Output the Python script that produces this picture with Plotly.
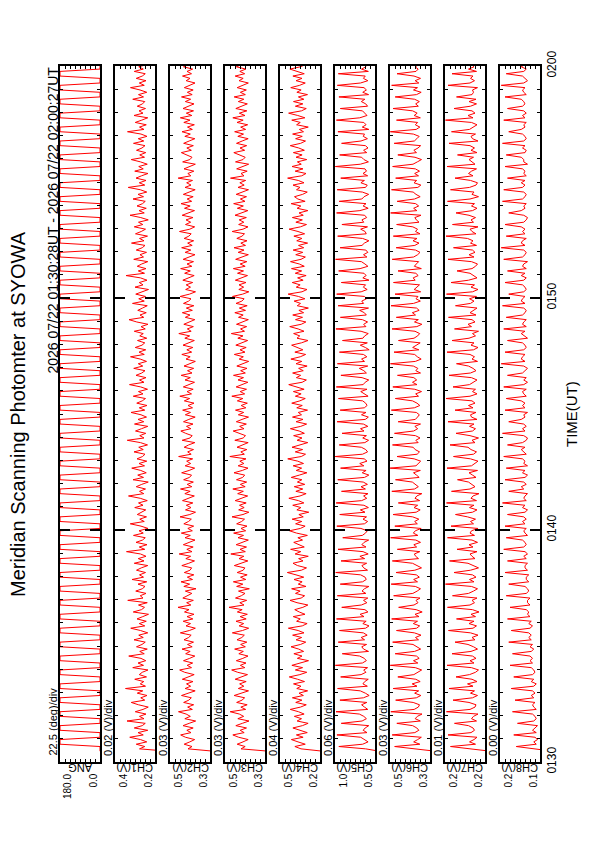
import pandas as pd
import plotly.graph_objects as go

# ---------------- data ----------------
TITLE = "Meridian Scanning Photomter at SYOWA"
PERIOD_TEXT = "2026 07/22 01:30:28UT - 2026 07/22 02:00:27UT"
SAMPLE_START = "2026-07-22 01:30:28"
SAMPLE_STEP = "6s"
AXIS_START = "2026-07-22 01:30:00"
AXIS_END = "2026-07-22 02:00:00"
TIME_TICKS = ["2026-07-22 01:30", "2026-07-22 01:40", "2026-07-22 01:50", "2026-07-22 02:00"]
TIME_TICK_LABELS = ["0130", "0140", "0150", "0200"]
TIME_TITLE = "TIME(UT)"

CHANNELS = ["ANG", "CH1(V)", "CH2(V)", "CH3(V)", "CH4(V)", "CH5(V)", "CH6(V)", "CH7(V)", "CH8(V)"]
UNITS = ["(deg)", "(V)", "(V)", "(V)", "(V)", "(V)", "(V)", "(V)", "(V)"]
VMIN = [0.0, 0.20, 0.27, 0.27, 0.20, 0.50, 0.27, 0.16, 0.130]
VDIV = [22.5, 0.02, 0.03, 0.03, 0.04, 0.06, 0.03, 0.01, 0.004]
NDIV = 8

ANG = [
    0.0, 0.0, 0.0, 180.0, 180.0, 180.0, 0.0, 0.0, 0.0, 180.0, 180.0, 180.0, 0.0, 0.0, 0.0, 180.0, 180.0, 180.0, 0.0, 0.0,
    0.0, 180.0, 180.0, 180.0, 0.0, 0.0, 0.0, 180.0, 180.0, 180.0, 0.0, 0.0, 0.0, 180.0, 180.0, 180.0, 0.0, 0.0, 0.0, 180.0,
    180.0, 180.0, 0.0, 0.0, 0.0, 180.0, 180.0, 180.0, 0.0, 0.0, 0.0, 180.0, 180.0, 180.0, 0.0, 0.0, 0.0, 180.0, 180.0, 180.0,
    0.0, 0.0, 0.0, 180.0, 180.0, 180.0, 0.0, 0.0, 0.0, 180.0, 180.0, 180.0, 0.0, 0.0, 0.0, 180.0, 180.0, 180.0, 0.0, 0.0,
    0.0, 180.0, 180.0, 180.0, 0.0, 0.0, 0.0, 180.0, 180.0, 180.0, 0.0, 0.0, 0.0, 180.0, 180.0, 180.0, 0.0, 0.0, 0.0, 180.0,
    180.0, 180.0, 0.0, 0.0, 0.0, 180.0, 180.0, 180.0, 0.0, 0.0, 0.0, 180.0, 180.0, 180.0, 0.0, 0.0, 0.0, 180.0, 180.0, 180.0,
    0.0, 0.0, 0.0, 180.0, 180.0, 180.0, 0.0, 0.0, 0.0, 180.0, 180.0, 180.0, 0.0, 0.0, 0.0, 180.0, 180.0, 180.0, 0.0, 0.0,
    0.0, 180.0, 180.0, 180.0, 0.0, 0.0, 0.0, 180.0, 180.0, 180.0, 0.0, 0.0, 0.0, 180.0, 180.0, 180.0, 0.0, 0.0, 0.0, 180.0,
    180.0, 180.0, 0.0, 0.0, 0.0, 180.0, 180.0, 180.0, 0.0, 0.0, 0.0, 180.0, 180.0, 180.0, 0.0, 0.0, 0.0, 180.0, 180.0, 180.0,
    0.0, 0.0, 0.0, 180.0, 180.0, 180.0, 0.0, 0.0, 0.0, 180.0, 180.0, 180.0, 0.0, 0.0, 0.0, 180.0, 180.0, 180.0, 0.0, 0.0,
    0.0, 180.0, 180.0, 180.0, 0.0, 0.0, 0.0, 180.0, 180.0, 180.0, 0.0, 0.0, 0.0, 180.0, 180.0, 180.0, 0.0, 0.0, 0.0, 180.0,
    180.0, 180.0, 0.0, 0.0, 0.0, 180.0, 180.0, 180.0, 0.0, 0.0, 0.0, 180.0, 180.0, 180.0, 0.0, 0.0, 0.0, 180.0, 180.0, 180.0,
    0.0, 0.0, 0.0, 180.0, 180.0, 180.0, 0.0, 0.0, 0.0, 180.0, 180.0, 180.0, 0.0, 0.0, 0.0, 180.0, 180.0, 180.0, 0.0, 0.0,
    0.0, 180.0, 180.0, 180.0, 0.0, 0.0, 0.0, 180.0, 180.0, 180.0, 0.0, 0.0, 0.0, 180.0, 180.0, 180.0, 0.0, 0.0, 0.0, 180.0,
    180.0, 180.0, 0.0, 0.0, 0.0, 180.0, 180.0, 180.0, 0.0, 0.0, 0.0, 180.0, 180.0, 180.0, 0.0, 0.0, 0.0, 180.0, 180.0, 180.0,
]

CH1 = [
    0.150, 0.262, 0.241, 0.275, 0.233, 0.258, 0.301, 0.247, 0.268, 0.229, 0.283, 0.251, 0.239, 0.312, 0.244, 0.262, 0.236, 0.279, 0.248, 0.227,
    0.266, 0.295, 0.241, 0.257, 0.232, 0.271, 0.249, 0.318, 0.238, 0.259, 0.245, 0.281, 0.234, 0.263, 0.251, 0.228, 0.289, 0.246, 0.268, 0.237,
    0.256, 0.305, 0.243, 0.261, 0.231, 0.274, 0.252, 0.239, 0.284, 0.247, 0.265, 0.229, 0.258, 0.297, 0.241, 0.263, 0.235, 0.272, 0.249, 0.226,
    0.287, 0.254, 0.242, 0.266, 0.231, 0.309, 0.248, 0.259, 0.236, 0.277, 0.251, 0.240, 0.268, 0.233, 0.292, 0.246, 0.262, 0.238, 0.274, 0.255,
    0.229, 0.283, 0.244, 0.267, 0.236, 0.258, 0.314, 0.241, 0.263, 0.232, 0.276, 0.250, 0.239, 0.286, 0.247, 0.264, 0.228, 0.256, 0.299, 0.243,
    0.261, 0.234, 0.271, 0.252, 0.237, 0.281, 0.248, 0.266, 0.231, 0.259, 0.306, 0.245, 0.262, 0.238, 0.275, 0.253, 0.227, 0.288, 0.246, 0.269,
    0.235, 0.257, 0.293, 0.242, 0.264, 0.233, 0.272, 0.250, 0.240, 0.284, 0.247, 0.265, 0.230, 0.258, 0.311, 0.244, 0.261, 0.237, 0.278, 0.254,
    0.229, 0.282, 0.245, 0.268, 0.234, 0.256, 0.296, 0.241, 0.263, 0.232, 0.273, 0.251, 0.238, 0.287, 0.248, 0.266, 0.230, 0.257, 0.302, 0.244,
    0.262, 0.236, 0.276, 0.253, 0.240, 0.285, 0.249, 0.267, 0.234, 0.259, 0.298, 0.243, 0.264, 0.237, 0.279, 0.252, 0.241, 0.270, 0.233, 0.261,
    0.247, 0.283, 0.239, 0.256, 0.228, 0.273, 0.304, 0.245, 0.260, 0.235, 0.269, 0.250, 0.231, 0.290, 0.243, 0.265, 0.238, 0.277, 0.254, 0.226,
    0.280, 0.248, 0.263, 0.232, 0.258, 0.316, 0.242, 0.267, 0.236, 0.271, 0.253, 0.229, 0.285, 0.246, 0.260, 0.234, 0.275, 0.251, 0.240, 0.294,
    0.244, 0.262, 0.230, 0.278, 0.255, 0.238, 0.283, 0.249, 0.266, 0.227, 0.257, 0.300, 0.243, 0.264, 0.235, 0.272, 0.250, 0.239, 0.288, 0.246,
    0.268, 0.233, 0.259, 0.307, 0.241, 0.263, 0.236, 0.276, 0.254, 0.228, 0.281, 0.247, 0.265, 0.231, 0.258, 0.295, 0.242, 0.261, 0.237, 0.274,
    0.252, 0.240, 0.286, 0.245, 0.267, 0.232, 0.256, 0.310, 0.244, 0.262, 0.235, 0.279, 0.253, 0.229, 0.284, 0.248, 0.264, 0.238, 0.271, 0.250,
    0.241, 0.289, 0.246, 0.266, 0.233, 0.260, 0.298, 0.243, 0.263, 0.236, 0.275, 0.251, 0.239, 0.283, 0.247, 0.265, 0.231, 0.270, 0.335, 0.342,
]

CH2 = [
    0.250, 0.402, 0.378, 0.425, 0.391, 0.362, 0.417, 0.446, 0.384, 0.409, 0.371, 0.432, 0.395, 0.356, 0.421, 0.388, 0.413, 0.459, 0.376, 0.404,
    0.368, 0.428, 0.397, 0.382, 0.441, 0.393, 0.359, 0.419, 0.386, 0.411, 0.372, 0.436, 0.399, 0.365, 0.422, 0.452, 0.381, 0.407, 0.374, 0.429,
    0.392, 0.361, 0.416, 0.389, 0.438, 0.377, 0.405, 0.369, 0.426, 0.398, 0.383, 0.448, 0.394, 0.358, 0.414, 0.387, 0.431, 0.373, 0.408, 0.366,
    0.423, 0.396, 0.462, 0.385, 0.410, 0.370, 0.433, 0.401, 0.379, 0.418, 0.354, 0.427, 0.392, 0.444, 0.375, 0.406, 0.367, 0.424, 0.390, 0.380,
    0.439, 0.397, 0.363, 0.415, 0.386, 0.455, 0.378, 0.409, 0.371, 0.430, 0.394, 0.360, 0.420, 0.388, 0.442, 0.376, 0.403, 0.368, 0.427, 0.399,
    0.382, 0.450, 0.391, 0.357, 0.417, 0.384, 0.412, 0.373, 0.435, 0.396, 0.364, 0.421, 0.389, 0.447, 0.379, 0.407, 0.370, 0.428, 0.393, 0.381,
    0.440, 0.395, 0.362, 0.419, 0.386, 0.410, 0.374, 0.458, 0.383, 0.404, 0.369, 0.425, 0.398, 0.361, 0.437, 0.390, 0.377, 0.416, 0.445, 0.385,
    0.411, 0.372, 0.429, 0.397, 0.359, 0.418, 0.387, 0.434, 0.375, 0.402, 0.366, 0.424, 0.392, 0.451, 0.381, 0.408, 0.371, 0.430, 0.396, 0.363,
    0.420, 0.388, 0.443, 0.378, 0.405, 0.368, 0.426, 0.394, 0.358, 0.414, 0.389, 0.439, 0.380, 0.409, 0.373, 0.432, 0.399, 0.364, 0.421, 0.392,
    0.457, 0.383, 0.406, 0.370, 0.427, 0.395, 0.361, 0.418, 0.390, 0.436, 0.376, 0.412, 0.367, 0.429, 0.398, 0.384, 0.449, 0.393, 0.357, 0.416,
    0.387, 0.413, 0.374, 0.433, 0.400, 0.365, 0.422, 0.388, 0.446, 0.379, 0.408, 0.369, 0.431, 0.394, 0.360, 0.419, 0.385, 0.440, 0.377, 0.404,
    0.368, 0.425, 0.397, 0.383, 0.453, 0.391, 0.362, 0.417, 0.386, 0.414, 0.372, 0.437, 0.396, 0.363, 0.423, 0.389, 0.444, 0.380, 0.407, 0.371,
    0.430, 0.399, 0.359, 0.420, 0.384, 0.410, 0.375, 0.461, 0.385, 0.403, 0.367, 0.426, 0.393, 0.358, 0.434, 0.391, 0.378, 0.415, 0.442, 0.382,
    0.409, 0.370, 0.428, 0.395, 0.361, 0.421, 0.388, 0.438, 0.376, 0.405, 0.364, 0.427, 0.390, 0.448, 0.379, 0.412, 0.369, 0.432, 0.398, 0.366,
    0.418, 0.386, 0.441, 0.377, 0.406, 0.371, 0.424, 0.396, 0.360, 0.413, 0.390, 0.435, 0.381, 0.408, 0.374, 0.429, 0.397, 0.365, 0.422, 0.392,
]

CH3 = [
    0.250, 0.414, 0.389, 0.437, 0.402, 0.371, 0.428, 0.463, 0.395, 0.419, 0.381, 0.445, 0.406, 0.366, 0.433, 0.398, 0.424, 0.479, 0.386, 0.415,
    0.377, 0.440, 0.408, 0.392, 0.455, 0.404, 0.369, 0.430, 0.397, 0.422, 0.383, 0.449, 0.410, 0.375, 0.434, 0.470, 0.391, 0.418, 0.384, 0.442,
    0.403, 0.372, 0.427, 0.400, 0.452, 0.388, 0.416, 0.379, 0.438, 0.409, 0.394, 0.466, 0.405, 0.368, 0.425, 0.398, 0.444, 0.383, 0.419, 0.376,
    0.436, 0.407, 0.486, 0.396, 0.421, 0.380, 0.447, 0.412, 0.390, 0.429, 0.364, 0.440, 0.403, 0.460, 0.385, 0.417, 0.377, 0.437, 0.401, 0.391,
    0.454, 0.408, 0.373, 0.426, 0.397, 0.475, 0.388, 0.420, 0.381, 0.443, 0.405, 0.370, 0.432, 0.399, 0.458, 0.386, 0.414, 0.378, 0.440, 0.410,
    0.393, 0.468, 0.402, 0.367, 0.428, 0.395, 0.423, 0.383, 0.449, 0.407, 0.374, 0.434, 0.400, 0.463, 0.389, 0.418, 0.380, 0.441, 0.404, 0.392,
    0.456, 0.406, 0.372, 0.431, 0.397, 0.421, 0.384, 0.481, 0.394, 0.415, 0.379, 0.438, 0.409, 0.371, 0.451, 0.401, 0.387, 0.428, 0.461, 0.396,
    0.422, 0.382, 0.442, 0.408, 0.369, 0.430, 0.398, 0.447, 0.385, 0.413, 0.376, 0.436, 0.403, 0.469, 0.392, 0.419, 0.381, 0.443, 0.407, 0.373,
    0.432, 0.399, 0.459, 0.388, 0.416, 0.378, 0.439, 0.405, 0.368, 0.425, 0.400, 0.454, 0.390, 0.420, 0.383, 0.445, 0.410, 0.374, 0.433, 0.402,
    0.472, 0.393, 0.417, 0.380, 0.441, 0.406, 0.370, 0.429, 0.401, 0.451, 0.387, 0.424, 0.377, 0.444, 0.409, 0.395, 0.465, 0.404, 0.367, 0.427,
    0.398, 0.426, 0.384, 0.448, 0.411, 0.375, 0.435, 0.399, 0.460, 0.389, 0.419, 0.379, 0.446, 0.405, 0.370, 0.431, 0.396, 0.456, 0.387, 0.415,
    0.378, 0.439, 0.408, 0.393, 0.467, 0.402, 0.372, 0.428, 0.397, 0.425, 0.382, 0.450, 0.406, 0.373, 0.436, 0.400, 0.458, 0.390, 0.418, 0.381,
    0.443, 0.410, 0.369, 0.432, 0.395, 0.421, 0.386, 0.477, 0.396, 0.414, 0.377, 0.440, 0.404, 0.368, 0.447, 0.402, 0.389, 0.427, 0.457, 0.392,
    0.420, 0.380, 0.441, 0.407, 0.371, 0.433, 0.399, 0.452, 0.386, 0.416, 0.374, 0.438, 0.401, 0.463, 0.390, 0.424, 0.379, 0.445, 0.409, 0.376,
    0.430, 0.397, 0.455, 0.388, 0.418, 0.382, 0.437, 0.406, 0.370, 0.426, 0.401, 0.449, 0.392, 0.421, 0.385, 0.442, 0.408, 0.375, 0.434, 0.403,
]

CH4 = [
    0.180, 0.352, 0.401, 0.318, 0.376, 0.429, 0.335, 0.389, 0.302, 0.364, 0.417, 0.341, 0.295, 0.383, 0.348, 0.405, 0.327, 0.372, 0.438, 0.356,
    0.310, 0.394, 0.345, 0.421, 0.333, 0.368, 0.299, 0.386, 0.352, 0.412, 0.324, 0.379, 0.446, 0.361, 0.306, 0.397, 0.339, 0.425, 0.350, 0.292,
    0.381, 0.344, 0.409, 0.331, 0.370, 0.432, 0.355, 0.314, 0.391, 0.347, 0.419, 0.328, 0.375, 0.453, 0.342, 0.303, 0.387, 0.358, 0.414, 0.320,
    0.366, 0.402, 0.337, 0.297, 0.384, 0.440, 0.351, 0.323, 0.396, 0.359, 0.427, 0.312, 0.374, 0.343, 0.408, 0.330, 0.392, 0.461, 0.349, 0.308,
    0.380, 0.416, 0.336, 0.371, 0.294, 0.399, 0.354, 0.435, 0.326, 0.362, 0.410, 0.340, 0.377, 0.301, 0.388, 0.444, 0.357, 0.319, 0.395, 0.346,
    0.423, 0.334, 0.369, 0.290, 0.385, 0.353, 0.418, 0.329, 0.373, 0.449, 0.360, 0.311, 0.393, 0.338, 0.406, 0.322, 0.381, 0.345, 0.430, 0.365,
    0.305, 0.390, 0.347, 0.415, 0.332, 0.378, 0.458, 0.350, 0.316, 0.398, 0.339, 0.424, 0.357, 0.298, 0.383, 0.344, 0.411, 0.325, 0.367, 0.437,
    0.354, 0.307, 0.391, 0.336, 0.420, 0.348, 0.374, 0.300, 0.386, 0.342, 0.426, 0.361, 0.318, 0.397, 0.351, 0.413, 0.327, 0.380, 0.450, 0.343,
    0.309, 0.389, 0.355, 0.419, 0.334, 0.371, 0.303, 0.392, 0.346, 0.433, 0.358, 0.315, 0.401, 0.337, 0.378, 0.427, 0.349, 0.296, 0.384, 0.362,
    0.411, 0.328, 0.375, 0.442, 0.350, 0.313, 0.396, 0.340, 0.418, 0.331, 0.369, 0.293, 0.382, 0.356, 0.407, 0.321, 0.373, 0.455, 0.344, 0.304,
    0.390, 0.359, 0.422, 0.335, 0.379, 0.311, 0.398, 0.347, 0.428, 0.326, 0.366, 0.436, 0.352, 0.317, 0.394, 0.338, 0.415, 0.330, 0.372, 0.299,
    0.386, 0.345, 0.409, 0.323, 0.376, 0.447, 0.357, 0.308, 0.393, 0.341, 0.421, 0.334, 0.368, 0.297, 0.383, 0.353, 0.431, 0.319, 0.377, 0.404,
    0.339, 0.302, 0.388, 0.360, 0.416, 0.328, 0.374, 0.459, 0.346, 0.312, 0.399, 0.336, 0.424, 0.350, 0.381, 0.306, 0.392, 0.343, 0.413, 0.325,
    0.370, 0.438, 0.355, 0.316, 0.395, 0.342, 0.419, 0.332, 0.365, 0.294, 0.387, 0.358, 0.426, 0.321, 0.378, 0.451, 0.348, 0.310, 0.397, 0.337,
    0.412, 0.329, 0.373, 0.300, 0.385, 0.351, 0.434, 0.363, 0.318, 0.391, 0.344, 0.417, 0.326, 0.376, 0.441, 0.356, 0.314, 0.396, 0.340, 0.423,
]

CH5 = [
    0.450, 0.612, 0.934, 0.648, 0.583, 0.629, 0.671, 0.957, 0.596, 0.642, 0.618, 0.575, 0.905, 0.655, 0.603, 0.634, 0.688, 0.968, 0.587, 0.626,
    0.661, 0.598, 0.921, 0.639, 0.570, 0.616, 0.677, 0.949, 0.592, 0.645, 0.623, 0.581, 0.912, 0.667, 0.609, 0.636, 0.589, 0.975, 0.651, 0.604,
    0.628, 0.684, 0.893, 0.578, 0.637, 0.659, 0.601, 0.941, 0.625, 0.666, 0.594, 0.640, 0.926, 0.613, 0.572, 0.646, 0.606, 0.962, 0.632, 0.679,
    0.585, 0.621, 0.899, 0.663, 0.597, 0.638, 0.586, 0.952, 0.610, 0.656, 0.627, 0.573, 0.917, 0.649, 0.605, 0.619, 0.672, 0.971, 0.590, 0.635,
    0.657, 0.600, 0.908, 0.624, 0.681, 0.582, 0.643, 0.944, 0.608, 0.658, 0.631, 0.576, 0.887, 0.652, 0.614, 0.593, 0.669, 0.958, 0.627, 0.588,
    0.644, 0.602, 0.923, 0.620, 0.676, 0.579, 0.633, 0.966, 0.660, 0.599, 0.637, 0.584, 0.902, 0.615, 0.668, 0.591, 0.641, 0.947, 0.626, 0.574,
    0.653, 0.607, 0.913, 0.634, 0.683, 0.596, 0.629, 0.978, 0.650, 0.589, 0.611, 0.664, 0.929, 0.622, 0.577, 0.647, 0.603, 0.896, 0.632, 0.674,
    0.586, 0.639, 0.955, 0.617, 0.580, 0.662, 0.608, 0.918, 0.628, 0.595, 0.612, 0.648, 0.938, 0.583, 0.629, 0.671, 0.596, 0.964, 0.642, 0.618,
    0.575, 0.655, 0.909, 0.603, 0.634, 0.688, 0.587, 0.951, 0.626, 0.661, 0.598, 0.639, 0.927, 0.570, 0.616, 0.677, 0.592, 0.890, 0.645, 0.623,
    0.581, 0.667, 0.969, 0.609, 0.636, 0.589, 0.651, 0.915, 0.604, 0.628, 0.684, 0.578, 0.943, 0.637, 0.659, 0.601, 0.625, 0.960, 0.666, 0.594,
    0.640, 0.613, 0.904, 0.572, 0.646, 0.606, 0.632, 0.936, 0.679, 0.585, 0.621, 0.663, 0.973, 0.597, 0.638, 0.586, 0.610, 0.919, 0.656, 0.627,
    0.573, 0.649, 0.948, 0.605, 0.619, 0.672, 0.590, 0.897, 0.635, 0.657, 0.600, 0.624, 0.961, 0.681, 0.582, 0.643, 0.608, 0.930, 0.658, 0.631,
    0.576, 0.652, 0.954, 0.614, 0.593, 0.669, 0.627, 0.911, 0.588, 0.644, 0.602, 0.620, 0.976, 0.676, 0.579, 0.633, 0.660, 0.924, 0.599, 0.637,
    0.584, 0.615, 0.901, 0.668, 0.591, 0.641, 0.626, 0.945, 0.574, 0.653, 0.607, 0.634, 0.963, 0.683, 0.596, 0.629, 0.650, 0.916, 0.589, 0.611,
    0.664, 0.622, 0.933, 0.577, 0.647, 0.603, 0.632, 0.952, 0.674, 0.586, 0.639, 0.617, 0.940, 0.580, 0.662, 0.608, 0.628, 0.970, 0.595, 0.612,
]

CH6 = [
    0.240, 0.356, 0.482, 0.331, 0.368, 0.344, 0.322, 0.497, 0.361, 0.337, 0.349, 0.374, 0.469, 0.328, 0.359, 0.346, 0.318, 0.505, 0.365, 0.340,
    0.333, 0.371, 0.476, 0.352, 0.325, 0.362, 0.338, 0.491, 0.348, 0.377, 0.329, 0.355, 0.463, 0.367, 0.341, 0.320, 0.358, 0.508, 0.343, 0.369,
    0.335, 0.351, 0.479, 0.363, 0.326, 0.347, 0.372, 0.494, 0.339, 0.357, 0.324, 0.364, 0.471, 0.350, 0.332, 0.370, 0.345, 0.500, 0.336, 0.360,
    0.317, 0.353, 0.458, 0.366, 0.342, 0.354, 0.330, 0.488, 0.373, 0.347, 0.327, 0.358, 0.503, 0.345, 0.368, 0.334, 0.352, 0.474, 0.361, 0.321,
    0.348, 0.375, 0.496, 0.339, 0.356, 0.364, 0.331, 0.466, 0.350, 0.367, 0.327, 0.355, 0.506, 0.343, 0.370, 0.358, 0.323, 0.481, 0.346, 0.362,
    0.337, 0.374, 0.492, 0.353, 0.329, 0.366, 0.344, 0.460, 0.332, 0.360, 0.349, 0.319, 0.499, 0.363, 0.340, 0.357, 0.376, 0.477, 0.335, 0.351,
    0.369, 0.328, 0.509, 0.354, 0.342, 0.326, 0.365, 0.468, 0.347, 0.333, 0.359, 0.371, 0.495, 0.341, 0.355, 0.330, 0.357, 0.483, 0.368, 0.344,
    0.361, 0.327, 0.461, 0.358, 0.345, 0.334, 0.352, 0.502, 0.364, 0.331, 0.348, 0.375, 0.478, 0.339, 0.356, 0.321, 0.361, 0.493, 0.348, 0.375,
    0.350, 0.367, 0.465, 0.327, 0.355, 0.343, 0.370, 0.507, 0.358, 0.323, 0.346, 0.362, 0.486, 0.337, 0.374, 0.353, 0.329, 0.459, 0.366, 0.344,
    0.332, 0.360, 0.498, 0.349, 0.319, 0.363, 0.340, 0.472, 0.357, 0.376, 0.335, 0.351, 0.504, 0.369, 0.328, 0.354, 0.342, 0.480, 0.326, 0.365,
    0.347, 0.333, 0.489, 0.359, 0.371, 0.341, 0.355, 0.462, 0.322, 0.364, 0.352, 0.338, 0.497, 0.368, 0.344, 0.330, 0.357, 0.473, 0.361, 0.336,
    0.372, 0.348, 0.490, 0.330, 0.357, 0.345, 0.373, 0.470, 0.336, 0.352, 0.361, 0.324, 0.506, 0.349, 0.368, 0.338, 0.356, 0.467, 0.363, 0.329,
    0.354, 0.371, 0.501, 0.343, 0.325, 0.366, 0.350, 0.476, 0.339, 0.362, 0.333, 0.358, 0.494, 0.372, 0.346, 0.321, 0.360, 0.463, 0.351, 0.367,
    0.342, 0.326, 0.485, 0.364, 0.349, 0.335, 0.370, 0.508, 0.353, 0.331, 0.358, 0.344, 0.471, 0.328, 0.365, 0.347, 0.374, 0.492, 0.340, 0.356,
    0.334, 0.362, 0.479, 0.351, 0.323, 0.369, 0.345, 0.500, 0.337, 0.359, 0.327, 0.366, 0.468, 0.354, 0.341, 0.360, 0.332, 0.503, 0.348, 0.372,
]

CH7 = [
    0.150, 0.186, 0.229, 0.179, 0.191, 0.182, 0.176, 0.234, 0.188, 0.181, 0.184, 0.193, 0.221, 0.177, 0.187, 0.183, 0.174, 0.237, 0.190, 0.180,
    0.178, 0.192, 0.224, 0.185, 0.175, 0.189, 0.181, 0.232, 0.184, 0.195, 0.176, 0.186, 0.218, 0.191, 0.179, 0.173, 0.187, 0.236, 0.182, 0.190,
    0.178, 0.185, 0.226, 0.188, 0.175, 0.183, 0.194, 0.220, 0.180, 0.186, 0.174, 0.189, 0.233, 0.184, 0.177, 0.192, 0.182, 0.217, 0.179, 0.188,
    0.172, 0.185, 0.235, 0.190, 0.181, 0.186, 0.176, 0.225, 0.193, 0.183, 0.175, 0.187, 0.239, 0.182, 0.191, 0.178, 0.185, 0.222, 0.189, 0.173,
    0.184, 0.194, 0.231, 0.180, 0.186, 0.190, 0.176, 0.216, 0.184, 0.192, 0.175, 0.186, 0.235, 0.181, 0.190, 0.187, 0.174, 0.228, 0.183, 0.189,
    0.179, 0.195, 0.219, 0.185, 0.176, 0.191, 0.182, 0.237, 0.177, 0.188, 0.184, 0.172, 0.227, 0.190, 0.180, 0.186, 0.193, 0.215, 0.178, 0.185,
    0.192, 0.175, 0.236, 0.187, 0.181, 0.174, 0.189, 0.223, 0.183, 0.177, 0.188, 0.194, 0.230, 0.180, 0.186, 0.173, 0.190, 0.218, 0.185, 0.179,
    0.191, 0.182, 0.234, 0.176, 0.187, 0.189, 0.178, 0.220, 0.184, 0.193, 0.180, 0.186, 0.238, 0.190, 0.176, 0.185, 0.179, 0.224, 0.191, 0.182,
    0.176, 0.187, 0.232, 0.189, 0.178, 0.184, 0.193, 0.217, 0.175, 0.186, 0.181, 0.190, 0.236, 0.183, 0.174, 0.188, 0.182, 0.226, 0.192, 0.179,
    0.185, 0.173, 0.221, 0.187, 0.194, 0.180, 0.186, 0.233, 0.178, 0.190, 0.184, 0.176, 0.219, 0.189, 0.182, 0.191, 0.177, 0.237, 0.185, 0.174,
    0.188, 0.181, 0.228, 0.193, 0.176, 0.183, 0.190, 0.216, 0.186, 0.179, 0.175, 0.187, 0.234, 0.182, 0.192, 0.180, 0.185, 0.223, 0.177, 0.189,
    0.184, 0.195, 0.238, 0.178, 0.186, 0.190, 0.174, 0.225, 0.183, 0.188, 0.179, 0.192, 0.218, 0.185, 0.176, 0.187, 0.181, 0.235, 0.190, 0.173,
    0.186, 0.182, 0.229, 0.191, 0.178, 0.175, 0.189, 0.220, 0.184, 0.193, 0.187, 0.177, 0.236, 0.180, 0.186, 0.192, 0.183, 0.215, 0.176, 0.188,
    0.181, 0.190, 0.232, 0.174, 0.185, 0.188, 0.179, 0.227, 0.191, 0.183, 0.176, 0.187, 0.239, 0.184, 0.194, 0.180, 0.186, 0.222, 0.189, 0.177,
    0.192, 0.178, 0.217, 0.186, 0.183, 0.185, 0.175, 0.234, 0.190, 0.181, 0.189, 0.184, 0.226, 0.177, 0.193, 0.182, 0.187, 0.231, 0.179, 0.186,
]

CH8 = [
    0.120, 0.134, 0.149, 0.133, 0.135, 0.132, 0.134, 0.151, 0.133, 0.136, 0.134, 0.132, 0.148, 0.135, 0.133, 0.134, 0.136, 0.152, 0.133, 0.135,
    0.136, 0.134, 0.150, 0.135, 0.137, 0.134, 0.136, 0.153, 0.135, 0.133, 0.137, 0.135, 0.151, 0.136, 0.134, 0.135, 0.137, 0.154, 0.136, 0.138,
    0.136, 0.138, 0.152, 0.137, 0.135, 0.138, 0.136, 0.155, 0.137, 0.139, 0.137, 0.139, 0.153, 0.138, 0.136, 0.139, 0.137, 0.156, 0.138, 0.140,
    0.139, 0.141, 0.154, 0.138, 0.140, 0.140, 0.138, 0.157, 0.141, 0.139, 0.140, 0.142, 0.155, 0.139, 0.141, 0.141, 0.139, 0.158, 0.140, 0.142,
    0.142, 0.140, 0.156, 0.141, 0.143, 0.140, 0.142, 0.159, 0.143, 0.141, 0.142, 0.144, 0.157, 0.140, 0.142, 0.143, 0.141, 0.158, 0.142, 0.144,
    0.141, 0.143, 0.156, 0.142, 0.140, 0.144, 0.142, 0.160, 0.141, 0.143, 0.142, 0.140, 0.155, 0.143, 0.145, 0.141, 0.143, 0.158, 0.142, 0.140,
    0.144, 0.142, 0.157, 0.140, 0.143, 0.142, 0.144, 0.159, 0.141, 0.143, 0.145, 0.142, 0.156, 0.144, 0.141, 0.140, 0.143, 0.160, 0.142, 0.144,
    0.141, 0.143, 0.155, 0.145, 0.142, 0.143, 0.140, 0.158, 0.142, 0.144, 0.142, 0.145, 0.157, 0.141, 0.143, 0.144, 0.141, 0.159, 0.143, 0.140,
    0.143, 0.141, 0.156, 0.144, 0.142, 0.140, 0.143, 0.161, 0.142, 0.145, 0.144, 0.142, 0.158, 0.143, 0.141, 0.142, 0.144, 0.156, 0.140, 0.143,
    0.145, 0.142, 0.159, 0.141, 0.144, 0.143, 0.141, 0.157, 0.144, 0.142, 0.141, 0.143, 0.160, 0.142, 0.145, 0.144, 0.142, 0.155, 0.143, 0.141,
    0.142, 0.144, 0.158, 0.143, 0.141, 0.145, 0.142, 0.156, 0.141, 0.144, 0.143, 0.140, 0.159, 0.144, 0.142, 0.141, 0.143, 0.161, 0.142, 0.145,
    0.144, 0.141, 0.157, 0.142, 0.144, 0.142, 0.145, 0.158, 0.143, 0.141, 0.140, 0.143, 0.155, 0.145, 0.142, 0.143, 0.141, 0.160, 0.144, 0.142,
    0.141, 0.143, 0.159, 0.144, 0.142, 0.145, 0.142, 0.156, 0.141, 0.143, 0.142, 0.144, 0.158, 0.140, 0.143, 0.143, 0.145, 0.157, 0.142, 0.141,
    0.144, 0.142, 0.160, 0.143, 0.141, 0.142, 0.144, 0.155, 0.145, 0.142, 0.143, 0.141, 0.159, 0.142, 0.144, 0.141, 0.143, 0.156, 0.144, 0.142,
    0.143, 0.145, 0.158, 0.141, 0.143, 0.144, 0.142, 0.161, 0.143, 0.140, 0.142, 0.144, 0.157, 0.143, 0.141, 0.145, 0.142, 0.159, 0.141, 0.144,
]

SERIES = [ANG, CH1, CH2, CH3, CH4, CH5, CH6, CH7, CH8]

# ---------------- layout (pixels on the 595x842 page) ----------------
W, H = 595, 842
PANEL_LEFT0, PANEL_W, PANEL_STEP = 60, 40, 55
PANEL_TOP, PANEL_BOTTOM = 66, 762
FONT = "Liberation Sans, Arial, Helvetica, sans-serif"
RED = "#ff0000"


def px(x):
    return x / W


def py(y):
    return 1 - y / H


fig = go.Figure()
layout = {}
annotations = []

for i, (name, vals) in enumerate(zip(CHANNELS, SERIES)):
    n = "" if i == 0 else str(i + 1)
    left = PANEL_LEFT0 + i * PANEL_STEP
    right = left + PANEL_W
    vmin = VMIN[i]
    vmax = VMIN[i] + NDIV * VDIV[i]
    times = pd.date_range(SAMPLE_START, periods=len(vals), freq=SAMPLE_STEP)

    fig.add_trace(go.Scatter(
        x=vals, y=times, xaxis="x" + n, yaxis="y" + n, mode="lines",
        line=dict(color=RED, width=1), hoverinfo="skip", showlegend=False,
    ))

    layout["xaxis" + n] = dict(
        domain=[px(left), px(right)], anchor="y" + n, automargin=False,
        range=[vmax, vmin], tick0=vmin, dtick=VDIV[i],
        showgrid=False, zeroline=False, showticklabels=False,
        showline=True, linecolor="black", linewidth=2, mirror="ticks",
        ticks="inside", ticklen=3, tickwidth=1, tickcolor="black",
    )
    last = i == len(CHANNELS) - 1
    layout["yaxis" + n] = dict(
        domain=[py(PANEL_BOTTOM), py(PANEL_TOP)], anchor="x" + n, automargin=False,
        type="date", range=[AXIS_START, AXIS_END],
        tickmode="array", tickvals=TIME_TICKS, ticktext=TIME_TICK_LABELS,
        showticklabels=last, side="right" if last else "left", tickangle=-90,
        tickfont=dict(family=FONT, size=12, color="black"),
        showgrid=False, zeroline=False,
        showline=True, linecolor="black", linewidth=2, mirror="ticks",
        ticks="inside", ticklen=10, tickwidth=2, tickcolor="black",
        minor=dict(ticks="inside", ticklen=3, tickwidth=1, tickcolor="black",
                   dtick=60000, tick0=AXIS_START, showgrid=False),
    )

    # scale per division, left of the panel
    fmt = "{:.1f}" if UNITS[i] == "(deg)" else "{:.2f}"
    annotations.append(dict(
        text=fmt.format(VDIV[i]) + " " + UNITS[i] + "/div",
        xref="paper", yref="paper", x=px(left - 7.5), y=py(PANEL_BOTTOM - 4),
        xanchor="center", yanchor="bottom", textangle=-90, showarrow=False,
        font=dict(family=FONT, size=11, color="black"),
    ))
    # channel name under the panel
    annotations.append(dict(
        text=name, xref="paper", yref="paper", x=px((left + right) / 2), y=py(PANEL_BOTTOM + 6),
        xanchor="center", yanchor="middle", textangle=180, showarrow=False,
        font=dict(family=FONT, size=11, color="black"),
    ))
    # range labels
    annotations.append(dict(
        text="{:.1f}".format(vmax), xref="paper", yref="paper", x=px(left), y=py(PANEL_BOTTOM + 10),
        xanchor="left", yanchor="top", textangle=-90, showarrow=False,
        font=dict(family=FONT, size=10, color="black"),
    ))
    annotations.append(dict(
        text="{:.1f}".format(vmin), xref="paper", yref="paper", x=px(right), y=py(PANEL_BOTTOM + 10),
        xanchor="right", yanchor="top", textangle=-90, showarrow=False,
        font=dict(family=FONT, size=10, color="black"),
    ))

annotations.append(dict(
    text=TITLE, xref="paper", yref="paper", x=px(18), y=py((PANEL_TOP + PANEL_BOTTOM) / 2),
    xanchor="center", yanchor="middle", textangle=-90, showarrow=False,
    font=dict(family=FONT, size=20, color="black"),
))
annotations.append(dict(
    text=PERIOD_TEXT, xref="paper", yref="paper", x=px(52), y=py(PANEL_TOP - 1),
    xanchor="center", yanchor="top", textangle=-90, showarrow=False,
    font=dict(family=FONT, size=14, color="black"),
))
annotations.append(dict(
    text=TIME_TITLE, xref="paper", yref="paper", x=px(571), y=py((PANEL_TOP + PANEL_BOTTOM) / 2),
    xanchor="center", yanchor="middle", textangle=-90, showarrow=False,
    font=dict(family=FONT, size=15, color="black"),
))

fig.update_layout(
    width=W, height=H, margin=dict(l=0, r=0, t=0, b=0, autoexpand=False),
    paper_bgcolor="white", plot_bgcolor="white", showlegend=False,
    annotations=annotations, **layout,
)

fig.write_html(
    "out.html",
    config={"displayModeBar": False},
    post_script="document.body.style.margin='0px';",
)
